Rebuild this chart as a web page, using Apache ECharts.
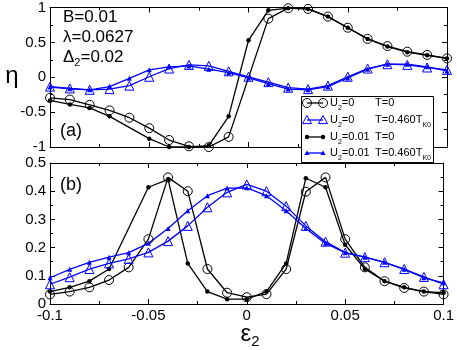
<!DOCTYPE html>
<html><head><meta charset="utf-8">
<script src="https://cdn.jsdelivr.net/npm/echarts@6/dist/echarts.min.js"></script>
<style>html,body{margin:0;padding:0;background:#fff}#c{width:457px;height:350px}</style>
</head><body><div id="c"></div>
<script>
// epsilon_2 grid
const eps = [-0.1,-0.09,-0.08,-0.07,-0.06,-0.05,-0.04,-0.03,-0.02,-0.01,0,0.01,0.02,0.03,0.04,0.05,0.06,0.07,0.08,0.09,0.1];
// panel (a): eta
const etaU0T0   = [-0.295,-0.32,-0.395,-0.475,-0.58,-0.73,-0.90,-0.99,-1.0,-0.855,null,0.84,0.99,0.98,0.87,0.71,0.55,0.447,0.366,0.32,0.27];
const etaU0Tk   = [-0.135,-0.16,-0.18,-0.17,-0.12,0.007,0.125,0.177,0.163,0.085,0.007,-0.07,-0.15,-0.17,-0.12,0.007,0.125,0.187,0.177,0.14,0.106];
const etaU1T0   = [-0.333,-0.39,-0.44,-0.56,null,-0.88,-1.0,-1.0,-0.98,-0.56,0.53,0.96,0.99,0.98,0.87,0.71,0.55,0.44,0.36,0.315,0.27];
const etaU1Tk   = [-0.14,-0.165,-0.18,-0.135,-0.016,0.106,0.15,0.163,0.116,0.065,-0.01,-0.09,-0.17,-0.18,-0.135,-0.01,0.116,0.187,0.187,0.15,0.09];
// panel (b): G/G0
const gU0T0 = [0.034,0.044,0.059,0.085,0.13,0.23,0.449,0.40,0.124,0.04,0.024,0.035,0.124,0.398,0.449,0.23,0.13,0.081,0.057,0.044,0.034];
const gU0Tk = [0.07,0.095,0.124,0.144,0.16,0.183,0.223,0.277,0.343,0.396,0.424,0.40,0.347,0.277,0.221,0.182,0.166,0.148,0.124,0.096,0.07];
const gU1T0 = [0.044,0.059,0.081,0.124,null,0.414,0.442,0.144,0.044,0.017,0.017,0.044,0.144,0.446,0.414,0.21,0.124,0.081,0.059,0.044,0.04];
const gU1Tk = [0.093,0.123,0.148,0.166,0.182,0.215,0.268,0.331,0.384,0.411,0.412,0.384,0.331,0.268,0.215,0.182,0.166,0.148,0.123,0.093,0.075];
// tick settings
const xTicks = {min:-0.1, max:0.1, interval:0.05};
const yTopTicks = {min:-1, max:1, interval:0.5};
const yBotTicks = {min:0, max:0.5, interval:0.1};

const FONT = 'Liberation Sans, Arial, Helvetica, sans-serif';
const BLUE = '#0000ff';
const pairs = ys => eps.map((x,i)=>[x, ys[i]]).filter(p=>p[1]!==null);
const fmt = v => String(+(+v).toFixed(2));

function axisBase(t, showLabel, pos, gi) {
  return Object.assign({
    type:'value', gridIndex:gi, position:pos,
    axisLine:{show:true, onZero:false, lineStyle:{color:'#000', width:1}},
    axisTick:{show:true, inside:true, length:5, lineStyle:{color:'#000', width:1}},
    minorTick:{show:true, splitNumber:2, length:3, lineStyle:{color:'#000', width:1}},
    splitLine:{show:false},
    axisLabel:{show:showLabel, color:'#000', fontSize:15, fontFamily:FONT, margin:4, formatter:fmt}
  }, t);
}

function ser(name, data, xi, yi, kind) {
  const s = {type:'line', name, data:pairs(data), xAxisIndex:xi, yAxisIndex:yi,
    clip:false, connectNulls:true, z:2};
  if (kind==='circle') {
    Object.assign(s, {symbol:'circle', symbolSize:9, lineStyle:{color:'#000', width:1.3},
      itemStyle:{color:'rgba(0,0,0,0)', borderColor:'#000', borderWidth:1}});
  } else if (kind==='dot') {
    Object.assign(s, {symbol:'circle', symbolSize:4.5, lineStyle:{color:'#000', width:1.3},
      itemStyle:{color:'#000', borderWidth:0}});
  } else if (kind==='otri') {
    Object.assign(s, {symbol:'triangle', symbolSize:9, lineStyle:{color:BLUE, width:1.3},
      itemStyle:{color:'rgba(0,0,0,0)', borderColor:BLUE, borderWidth:1}});
  } else {
    Object.assign(s, {symbol:'triangle', symbolSize:5, lineStyle:{color:BLUE, width:1.3},
      itemStyle:{color:BLUE, borderWidth:0}});
  }
  return s;
}

const rich = (fs, sub) => ({
  n:{fontSize:fs, fontFamily:FONT, color:'#000', lineHeight:fs+6},
  s:{fontSize:sub, fontFamily:FONT, color:'#000', verticalAlign:'bottom', lineHeight:sub+1}
});

function txt(x, y, text, fs, align, extra) {
  return Object.assign({type:'text', x, y, z:10,
    style:{text, fontSize:fs, fontFamily:FONT, fill:'#000', textAlign:align||'left', textVerticalAlign:'middle',
      align:align||'left', verticalAlign:'middle'}}, extra||{});
}
function rtxt(x, y, text, fs, sub, align, extra) {
  return Object.assign({type:'text', x, y, z:10,
    style:{text, rich:rich(fs, sub), textAlign:align||'left', textVerticalAlign:'middle',
      align:align||'left', verticalAlign:'middle'}}, extra||{});
}

// legend drawing
const legendRows = [
  {y:103, kind:'circle', u:'0', t:'{n|T=0}'},
  {y:120, kind:'otri', u:'0', t:'{n|T=0.460T}{s|K0}'},
  {y:137, kind:'dot', u:'0.01', t:'{n|T=0}'},
  {y:153, kind:'ftri', u:'0.01', t:'{n|T=0.460T}{s|K0}'}
];
function legSym(kind, x, y) {
  const col = (kind==='circle'||kind==='dot') ? '#000' : BLUE;
  if (kind==='circle') return {type:'circle', z:11, shape:{cx:x, cy:y, r:4.5}, style:{fill:'none', stroke:col, lineWidth:1}};
  if (kind==='dot') return {type:'circle', z:11, shape:{cx:x, cy:y, r:2.2}, style:{fill:col}};
  const r = kind==='otri' ? 4.5 : 2.6;
  return {type:'polygon', z:11, shape:{points:[[x, y-r],[x+r, y+r*0.8],[x-r, y+r*0.8]]},
    style: kind==='otri' ? {fill:'none', stroke:col, lineWidth:1} : {fill:col}};
}
const legendEls = [{type:'rect', z:9, shape:{x:301.5, y:96.5, width:132, height:66}, style:{fill:'#fff', stroke:'#000', lineWidth:1}}];
legendRows.forEach(r => {
  const col = (r.kind==='circle'||r.kind==='dot') ? '#000' : BLUE;
  legendEls.push({type:'line', z:10, shape:{x1:307, y1:r.y, x2:323, y2:r.y}, style:{stroke:col, lineWidth:1.3}});
  legendEls.push(legSym(r.kind, 307, r.y));
  legendEls.push(legSym(r.kind, 323, r.y));
  const rr = rich(11, 7);
  legendEls.push({type:'text', x:330, y:r.y, z:11, style:{text:'{n|U}{s|2}{n|='+r.u+'}', rich:rr, textVerticalAlign:'middle', verticalAlign:'middle'}});
  legendEls.push({type:'text', x:375, y:r.y, z:11, style:{text:r.t, rich:rr, textVerticalAlign:'middle', verticalAlign:'middle'}});
});

const chart = echarts.init(document.getElementById('c'), null, {renderer:'canvas'});
chart.setOption({
  animation:false,
  backgroundColor:'#fff',
  grid:[{left:50, right:10, top:6, height:141}, {left:50, right:10, top:163, height:141}],
  xAxis:[
    axisBase(xTicks, false, 'bottom', 0),
    axisBase(xTicks, false, 'top', 0),
    axisBase(xTicks, true, 'bottom', 1),
    axisBase(xTicks, false, 'top', 1)
  ],
  yAxis:[
    axisBase(yTopTicks, true, 'left', 0),
    axisBase(yTopTicks, false, 'right', 0),
    axisBase(yBotTicks, true, 'left', 1),
    axisBase(yBotTicks, false, 'right', 1)
  ],
  series:[
    ser('U2=0 T=0', etaU0T0, 0, 0, 'circle'),
    ser('U2=0.01 T=0', etaU1T0, 0, 0, 'dot'),
    ser('U2=0 T=0.460TK0', etaU0Tk, 0, 0, 'otri'),
    ser('U2=0.01 T=0.460TK0', etaU1Tk, 0, 0, 'ftri'),
    ser('U2=0 T=0', gU0T0, 2, 2, 'circle'),
    ser('U2=0.01 T=0', gU1T0, 2, 2, 'dot'),
    ser('U2=0 T=0.460TK0', gU0Tk, 2, 2, 'otri'),
    ser('U2=0.01 T=0.460TK0', gU1Tk, 2, 2, 'ftri')
  ],
  graphic:[
    txt(63, 17, 'B=0.01', 17),
    txt(63, 37, 'λ=0.0627', 17),
    rtxt(63, 57, '{n|Δ}{s|2}{n|=0.02}', 17, 11),
    txt(60, 131, '(a)', 18),
    txt(60, 185, '(b)', 18),
    txt(12, 76, 'η', 24, 'center'),
    rtxt(10, 241, '{n|G/G}{s|0}', 20, 13, 'center', {rotation:Math.PI/2, originX:10, originY:241}),
    rtxt(250, 334, '{n|ε}{s|2}', 24, 15, 'center')
  ].concat(legendEls)
});
</script>
</body></html>
